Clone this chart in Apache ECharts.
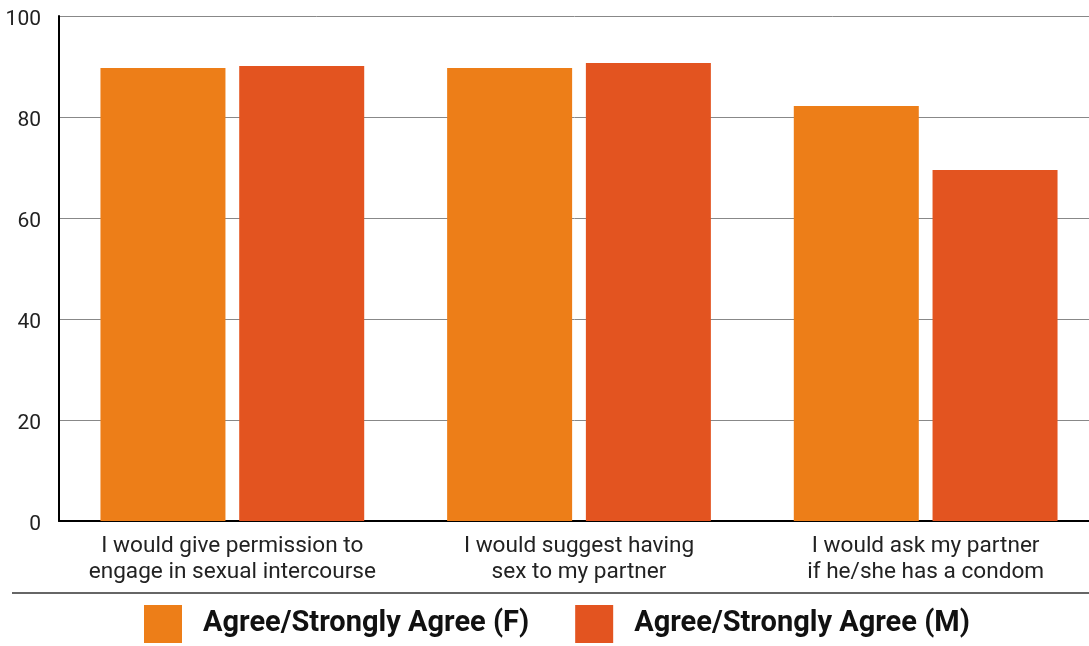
<!DOCTYPE html>
<html><head><meta charset="utf-8">
<script src="https://cdn.jsdelivr.net/npm/echarts@6/dist/echarts.min.js"></script>
<style>html,body{margin:0;padding:0;background:#fff}#c{width:1089px;height:646px}</style>
</head><body><div id="c"></div>
<script>
const categories = ["I would give permission to\nengage in sexual intercourse", "I would suggest having\nsex to my partner", "I would ask my partner\nif he/she has a condom"];
const seriesNames = ["Agree/Strongly Agree (F)", "Agree/Strongly Agree (M)"];
const femaleValues = [89.7, 89.7, 82.2];
const maleValues = [90.1, 90.7, 69.5];
const yTicks = [0, 20, 40, 60, 80, 100];

const chart = echarts.init(document.getElementById('c'));
chart.setOption({
  animation: false,
  textStyle: {fontFamily: 'Roboto'},
  grid: {left: 59, width: 1040, top: 16, bottom: 125, outerBoundsMode: 'none', containLabel: false},
  legend: {
    left: 144, top: 605, padding: 0, itemWidth: 38, itemHeight: 38, itemGap: 46,
    icon: 'rect',
    textStyle: {fontSize: 29, fontWeight: 'bold', color: '#111', padding: [9, 0, 0, 16], fontFamily: 'Roboto'},
    data: seriesNames
  },
  xAxis: {
    type: 'category', data: categories,
    axisLine: {lineStyle: {color: '#000', width: 2}},
    axisTick: {show: false},
    axisLabel: {fontSize: 22.6, color: '#222', lineHeight: 26, margin: 12, interval: 0}
  },
  yAxis: {
    type: 'value', min: 0, max: 100, interval: 20,
    axisLine: {show: true, lineStyle: {color: '#000', width: 2}},
    axisTick: {show: false},
    axisLabel: {
      fontSize: 21, color: '#222', margin: 18,
      formatter: v => yTicks.includes(v) ? '{a|' + v + '}' : '',
      rich: {a: {fontSize: 21, color: '#222', fontFamily: 'Roboto', padding: [8, 0, 0, 0]}}
    },
    splitLine: {lineStyle: {color: '#888', width: 1}}
  },
  series: [
    {name: seriesNames[0], type: 'bar', data: femaleValues, barWidth: 125, barGap: '11%', itemStyle: {color: '#ED7E18'}},
    {name: seriesNames[1], type: 'bar', data: maleValues, barWidth: 125, itemStyle: {color: '#E35420'}}
  ],
  graphic: [
    {type: 'line', shape: {x1: 12, y1: 593, x2: 1089, y2: 593}, style: {stroke: '#666', lineWidth: 2}}
  ]
});
</script></body></html>
